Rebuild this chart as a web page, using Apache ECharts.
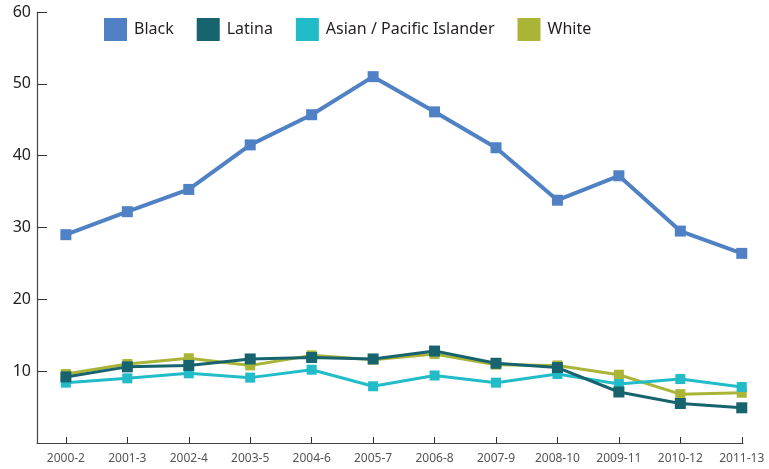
<!DOCTYPE html>
<html>
<head>
<meta charset="utf-8">
<script src="https://cdn.jsdelivr.net/npm/echarts@6/dist/echarts.min.js"></script>
<style>
  html, body { margin: 0; padding: 0; background: #fff; }
  #chart { width: 769px; height: 469px; }
</style>
</head>
<body>
<div id="chart"></div>
<script>
// Three-year periods on the horizontal axis
const periods = ['2000-2', '2001-3', '2002-4', '2003-5', '2004-6', '2005-7',
                 '2006-8', '2007-9', '2008-10', '2009-11', '2010-12', '2011-13'];

// Rates per group
const black  = [29.0, 32.2, 35.3, 41.5, 45.7, 51.0, 46.1, 41.1, 33.8, 37.2, 29.5, 26.4];
const latina = [9.2, 10.6, 10.8, 11.7, 11.9, 11.7, 12.8, 11.1, 10.5, 7.1, 5.5, 4.9];
const asian  = [8.4, 9.0, 9.7, 9.1, 10.2, 7.9, 9.4, 8.4, 9.6, 8.2, 8.9, 7.8];
const white  = [9.6, 11.0, 11.8, 10.8, 12.2, 11.6, 12.4, 10.9, 10.8, 9.5, 6.8, 7.0];

const yTicks = [10, 20, 30, 40, 50, 60];

const font = '"Noto Sans", "Open Sans", sans-serif';
const idx = periods.map((_, i) => i);
const pairs = arr => arr.map((v, i) => [i, v]);

function line(name, data, color, width, size, z) {
  return {
    name, type: 'line', data: pairs(data), z,
    symbol: 'rect', symbolSize: size,
    lineStyle: { color, width },
    itemStyle: { color },
    emphasis: { disabled: true },
    animation: false
  };
}

const chart = echarts.init(document.getElementById('chart'), null, { renderer: 'canvas' });
chart.setOption({
  backgroundColor: '#fff',
  textStyle: { fontFamily: font },
  grid: { left: 37, right: 26, top: 12, bottom: 26, containLabel: false },
  legend: {
    data: ['Black', 'Latina', 'Asian / Pacific Islander', 'White'],
    left: 99, top: 13,
    icon: 'rect', itemWidth: 23, itemHeight: 23, itemGap: 23,
    textStyle: { fontSize: 16, color: '#231f20', fontFamily: font, padding: [0, 0, 0, 2] }
  },
  xAxis: {
    type: 'value', min: -0.47, max: 11.02,
    splitLine: { show: false },
    axisLine: { onZero: false, lineStyle: { color: '#444', width: 1.2 } },
    axisTick: { inside: true, length: 6, customValues: idx, lineStyle: { color: '#333' } },
    axisLabel: {
      customValues: idx, margin: 10,
      formatter: v => periods[Math.round(v)],
      fontSize: 12, color: '#555', fontFamily: font
    }
  },
  yAxis: {
    type: 'value', min: 0, max: 60, interval: 10,
    splitLine: { show: false },
    axisLine: { show: true, onZero: false, lineStyle: { color: '#444', width: 1.2 } },
    axisTick: { show: true, inside: true, length: 10, customValues: yTicks, lineStyle: { color: '#333' } },
    axisLabel: {
      customValues: yTicks, margin: 6,
      fontSize: 16, color: '#222', fontFamily: font
    }
  },
  series: [
    line('Black', black, '#4f81c4', 4, 11, 5),
    line('Latina', latina, '#17636e', 3, 11, 4),
    line('Asian / Pacific Islander', asian, '#21bcc8', 3, 10, 3),
    line('White', white, '#aab538', 3, 10, 2)
  ]
});
</script>
</body>
</html>
